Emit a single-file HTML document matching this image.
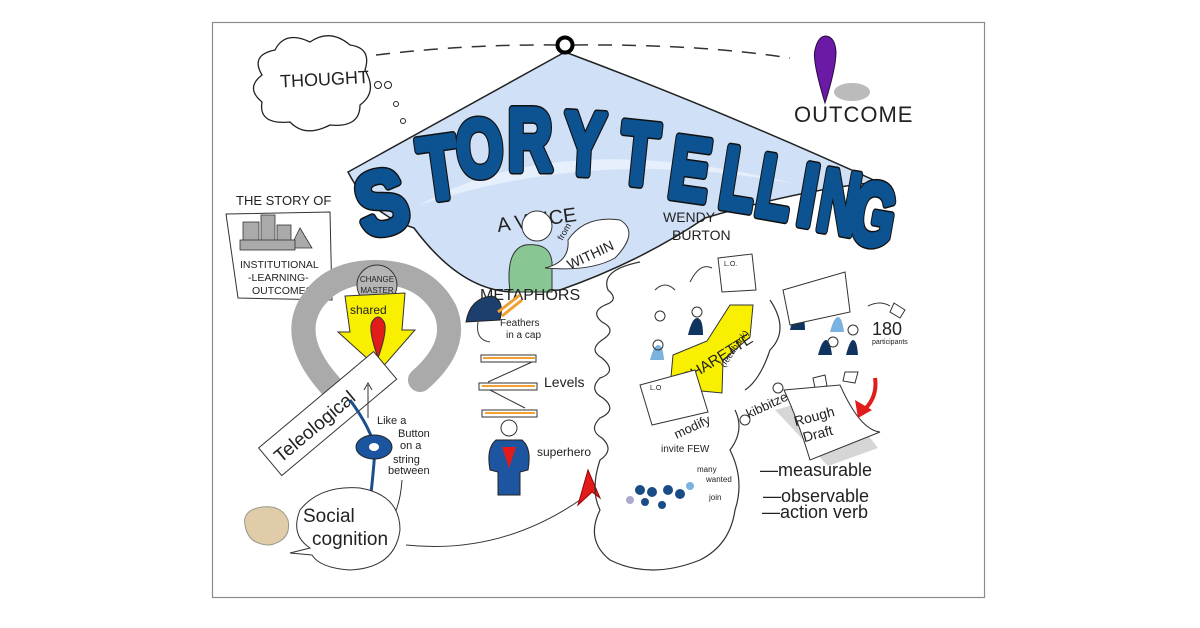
<!DOCTYPE html>
<html><head><meta charset="utf-8"><style>
html,body{margin:0;padding:0;background:#fff;}
svg{display:block;}
text{font-family:"Liberation Sans",sans-serif;}
.h{font-family:"Liberation Sans",sans-serif;fill:#222;}
.Lo{font-family:"DejaVu Sans","Liberation Sans",sans-serif;font-weight:bold;fill:#111;stroke:#111;stroke-width:9;stroke-linejoin:round;}
.Li{font-family:"DejaVu Sans","Liberation Sans",sans-serif;font-weight:bold;fill:#0d5391;stroke:#0d5391;stroke-width:6;stroke-linejoin:round;}
</style></head><body>
<svg width="1200" height="628" viewBox="0 0 1200 628" xmlns="http://www.w3.org/2000/svg">
<rect x="0" y="0" width="1200" height="628" fill="#fff"/>
<rect x="212.5" y="22.5" width="772" height="575" fill="#fff" stroke="#8a8a8a" stroke-width="1.2"/>

<!-- blue tent -->
<path d="M565,52 Q460,110 348,172 Q370,215 414,228 Q460,290 512,292 L560,290 Q640,262 705,218 Q800,190 878,182 Q720,110 565,52 Z" fill="#cfe0f7" stroke="#222" stroke-width="1.5"/>
<path d="M420,205 Q560,125 800,185 Q600,145 420,205Z" fill="#e6effc"/>

<!-- dashed line + ring -->
<path d="M376,55 Q470,44 556,45" fill="none" stroke="#333" stroke-width="1.5" stroke-dasharray="14,10"/>
<path d="M574,45 Q700,44 790,58" fill="none" stroke="#333" stroke-width="1.5" stroke-dasharray="14,10"/>
<circle cx="565" cy="45" r="7.5" fill="#fff" stroke="#000" stroke-width="4"/>

<!-- thought cloud -->
<path d="M262,75 Q250,55 275,50 Q285,30 310,42 Q330,28 350,45 Q372,48 365,70 Q378,92 360,105 Q360,128 330,125 Q305,138 290,122 Q258,125 262,102 Q245,88 262,75Z" fill="#fff" stroke="#222" stroke-width="1.3"/>
<text x="280" y="86" class="h" font-size="18" transform="rotate(-3 310 80)">THOUGHT</text>
<circle cx="378" cy="85" r="3.5" fill="none" stroke="#222"/>
<circle cx="388" cy="85" r="3.5" fill="none" stroke="#222"/>
<circle cx="396" cy="104" r="2.5" fill="none" stroke="#222"/>
<circle cx="403" cy="121" r="2.5" fill="none" stroke="#222"/>

<!-- pin + outcome -->
<ellipse cx="852" cy="92" rx="18" ry="9" fill="#bbb"/>
<path d="M825,103 Q812,60 815,50 Q818,36 826,36 Q835,37 836,52 Q836,68 825,103Z" fill="#6a1aa5" stroke="#2a0a40" stroke-width="1"/>
<text x="794" y="122" class="h" font-size="22" letter-spacing="1">OUTCOME</text>

<!-- STORYTELLING -->
<g font-size="88" text-anchor="middle">
<g class="Lo">
<text transform="translate(389,232) rotate(-14) scale(0.85,1)">S</text>
<text transform="translate(443,198) rotate(-8) scale(0.72,1)">T</text>
<text transform="translate(482,176) rotate(-5) scale(0.68,0.92)">O</text>
<text transform="translate(530,170) scale(0.7,1)">R</text>
<text transform="translate(583,174) rotate(3) scale(0.7,1)">Y</text>
<text transform="translate(636,184) rotate(6) scale(0.7,1)">T</text>
<text transform="translate(686,199) rotate(8) scale(0.68,1)">E</text>
<text transform="translate(734,209) rotate(9) scale(0.65,1)">L</text>
<text transform="translate(770,217) rotate(10) scale(0.65,1)">L</text>
<text transform="translate(803,225) rotate(10) scale(0.7,1)">I</text>
<text transform="translate(834,232) rotate(10) scale(0.62,1)">N</text>
<text transform="translate(868,244) rotate(10) scale(0.64,1)">G</text>
</g>
<g class="Li">
<text transform="translate(389,232) rotate(-14) scale(0.85,1)">S</text>
<text transform="translate(443,198) rotate(-8) scale(0.72,1)">T</text>
<text transform="translate(482,176) rotate(-5) scale(0.68,0.92)">O</text>
<text transform="translate(530,170) scale(0.7,1)">R</text>
<text transform="translate(583,174) rotate(3) scale(0.7,1)">Y</text>
<text transform="translate(636,184) rotate(6) scale(0.7,1)">T</text>
<text transform="translate(686,199) rotate(8) scale(0.68,1)">E</text>
<text transform="translate(734,209) rotate(9) scale(0.65,1)">L</text>
<text transform="translate(770,217) rotate(10) scale(0.65,1)">L</text>
<text transform="translate(803,225) rotate(10) scale(0.7,1)">I</text>
<text transform="translate(834,232) rotate(10) scale(0.62,1)">N</text>
<text transform="translate(868,244) rotate(10) scale(0.64,1)">G</text>
</g>
</g>

<!-- voice within -->
<text x="496" y="226" class="h" font-size="20" transform="rotate(-8 540 215)">A VOICE</text>
<path d="M510,292 Q505,250 525,245 Q550,242 552,262 L552,292Z" fill="#88c694" stroke="#333"/>
<circle cx="537" cy="226" r="15" fill="#fff" stroke="#333"/>
<path d="M545,268 Q570,262 568,240 Q585,215 620,220 Q640,232 615,258 Q590,272 545,268Z" fill="#fff" stroke="#333"/>
<text x="556" y="240" class="h" font-size="9" transform="rotate(-60 560 235)">from</text>
<text x="565" y="262" class="h" font-size="14" transform="rotate(-25 585 255)">WITHIN</text>
<text x="663" y="222" class="h" font-size="14">WENDY</text>
<text x="672" y="240" class="h" font-size="14">BURTON</text>

<!-- story of box -->
<text x="236" y="205" class="h" font-size="13">THE STORY OF</text>
<path d="M226,214 L330,212 L332,300 L238,298Z" fill="#fff" stroke="#333"/>
<g fill="#aaa" stroke="#333" stroke-width="0.8">
<rect x="243" y="222" width="16" height="25"/><rect x="261" y="215" width="14" height="32"/><rect x="277" y="225" width="14" height="22"/><path d="M290,248 L300,228 L312,248Z"/>
<rect x="240" y="240" width="55" height="10"/>
</g>
<text x="240" y="268" class="h" font-size="10.5">INSTITUTIONAL</text>
<text x="248" y="281" class="h" font-size="10.5">-LEARNING-</text>
<text x="252" y="294" class="h" font-size="10.5">OUTCOMES</text>

<!-- gray horseshoe -->
<path d="M330,385 Q290,340 310,305 Q330,272 375,272 Q425,272 445,310 Q460,345 420,380" fill="none" stroke="#aaa" stroke-width="24" stroke-linecap="round"/>
<circle cx="377" cy="285" r="20" fill="#b5b5b5" stroke="#333"/>
<text x="377" y="282" class="h" font-size="8" text-anchor="middle">CHANGE</text>
<text x="377" y="293" class="h" font-size="8" text-anchor="middle">MASTER</text>
<path d="M345,296 L405,293 L402,330 L415,330 L380,370 L338,332 L350,332Z" fill="#f8f000" stroke="#333"/>
<path d="M378,358 Q368,330 372,322 Q378,312 384,322 Q388,330 378,358Z" fill="#e21b1b" stroke="#333"/>
<text x="350" y="314" class="h" font-size="12" fill="#222">shared</text>
<!-- teleological band -->
<g transform="rotate(-40 320 420)">
<rect x="255" y="402" width="150" height="36" fill="#fff" stroke="#333"/>
<text x="262" y="428" class="h" font-size="19">Teleological</text>
</g>
<!-- button -->
<path d="M350,400 Q372,430 375,450 Q372,490 368,515" fill="none" stroke="#1b4f8c" stroke-width="3"/>
<ellipse cx="374" cy="447" rx="18" ry="12" fill="#1b55a0" stroke="#222"/>
<ellipse cx="374" cy="447" rx="5" ry="4" fill="#fff"/>
<g class="h" font-size="11"><text x="377" y="424">Like a</text><text x="398" y="437">Button</text><text x="400" y="449">on a</text><text x="393" y="463">string</text><text x="388" y="474">between</text></g>
<path d="M368,418 L368,385 M364,390 L368,383 L372,390" fill="none" stroke="#333"/>
<path d="M402,480 Q400,510 388,525" fill="none" stroke="#333"/>

<!-- brain & social cognition -->
<path d="M245,525 Q242,510 262,507 Q282,505 288,520 Q292,540 270,545 Q248,545 245,525Z" fill="#e1cca9" stroke="#998"/>
<path d="M310,548 Q290,535 300,510 Q320,485 360,488 Q400,495 400,530 Q395,568 350,570 Q320,568 312,555 L290,553Z" fill="#fff" stroke="#333"/>
<text x="303" y="522" class="h" font-size="19">Social</text>
<text x="312" y="545" class="h" font-size="19">cognition</text>
<path d="M406,545 Q500,555 580,500" fill="none" stroke="#333"/>
<path d="M578,505 L588,470 L600,498 L592,492 Z" fill="#e21b1b" stroke="#900"/>

<!-- metaphors -->
<text x="480" y="300" class="h" font-size="16">METAPHORS</text>
<path d="M466,322 Q470,298 492,296 Q505,300 500,320Z" fill="#1d3f6e" stroke="#222"/>
<path d="M498,312 L520,295 M502,316 L522,300" stroke="#f0a030" stroke-width="3"/>
<path d="M478,322 Q475,340 490,342" fill="none" stroke="#333"/>
<text x="500" y="326" class="h" font-size="10">Feathers</text>
<text x="506" y="338" class="h" font-size="10">in a cap</text>
<g stroke="#333" fill="#fff">
<rect x="481" y="355" width="55" height="7"/><rect x="479" y="383" width="58" height="7"/><rect x="482" y="410" width="55" height="7"/>
</g>
<path d="M483,358 L535,358 M482,386 L535,386 M485,413 L535,413" stroke="#f5a030" stroke-width="2"/>
<path d="M532,362 L488,382 M490,390 L525,408" stroke="#333"/>
<text x="544" y="387" class="h" font-size="14">Levels</text>
<circle cx="509" cy="428" r="8" fill="#fff" stroke="#333"/>
<path d="M490,470 Q486,448 496,440 L522,440 Q532,448 528,470 L520,472 L520,495 L498,495 L498,472Z" fill="#1e55a0" stroke="#222"/>
<path d="M502,447 L516,447 L509,468Z" fill="#e21b1b"/>
<text x="537" y="456" class="h" font-size="12">superhero</text>

<!-- loop spiral -->
<path d="M640,262 Q600,270 608,290 Q620,300 605,305 Q590,312 602,322 Q618,330 602,340 Q588,350 602,358 Q618,372 600,378 Q588,390 603,398 Q618,410 600,418 Q588,430 602,438 Q615,450 600,460 Q590,490 600,510 Q585,540 610,560 Q650,580 700,560 Q730,545 735,510 M735,510 Q745,480 730,450 Q745,430 735,410" fill="none" stroke="#333" stroke-width="1.2"/>
<path d="M770,300 Q790,330 770,350 Q760,380 745,390" fill="none" stroke="#333" stroke-width="1.2"/>
<path d="M655,290 Q665,280 675,290 M690,282 Q700,262 712,268" fill="none" stroke="#333"/>

<!-- charette -->
<path d="M670,388 L673,355 L707,341 L730,305 L753,305 L750,337 L723,360 L722,393Z" fill="#f8f000" stroke="#333"/>
<text x="672" y="372" class="h" font-size="15" transform="rotate(-32 700 355)">CHARETTE</text>
<text x="710" y="370" class="h" font-size="9" transform="rotate(-55 715 355)">(feedback)</text>
<path d="M718,258 L752,254 L756,290 L722,292Z" fill="#fff" stroke="#333"/>
<text x="724" y="266" class="h" font-size="7">L.O.</text>
<path d="M640,385 L695,370 L708,412 L652,425Z" fill="#fff" stroke="#333"/>
<text x="650" y="390" class="h" font-size="7">L.O</text>
<text x="672" y="432" class="h" font-size="13" transform="rotate(-25 690 425)">modify</text>
<g fill="#10345f"><path d="M688,335 Q692,318 697,318 Q703,318 703,335Z"/><path d="M790,330 Q793,315 799,315 Q805,315 805,330Z"/><path d="M818,355 Q822,340 826,340 Q830,340 832,355Z"/><path d="M846,355 Q850,340 853,340 Q857,340 858,355Z"/></g>
<g fill="#7ab2e0"><path d="M650,360 Q654,345 658,345 Q663,345 664,360Z"/><path d="M830,332 Q834,317 838,317 Q842,317 844,332Z"/></g>
<g fill="none" stroke="#333"><circle cx="660" cy="316" r="5"/><circle cx="658" cy="345" r="5"/><circle cx="697" cy="312" r="5"/><circle cx="833" cy="342" r="5"/><circle cx="853" cy="330" r="5"/></g>
<text x="661" y="452" class="h" font-size="10">invite FEW</text>
<text x="697" y="472" class="h" font-size="8">many</text>
<text x="706" y="482" class="h" font-size="8">wanted</text>
<text x="709" y="500" class="h" font-size="8">join</text>
<g fill="#1a4c85"><circle cx="640" cy="490" r="5"/><circle cx="652" cy="492" r="5"/><circle cx="668" cy="490" r="5"/><circle cx="680" cy="494" r="5"/><circle cx="645" cy="502" r="4"/><circle cx="662" cy="505" r="4"/><circle cx="690" cy="486" r="4" fill="#7ab2e0"/><circle cx="630" cy="500" r="4" fill="#aac"/></g>

<!-- poster 180 -->
<path d="M783,290 L845,272 L850,312 L790,325Z" fill="#fff" stroke="#333"/>
<text x="872" y="335" class="h" font-size="18">180</text>
<text x="872" y="344" class="h" font-size="7">participants</text>
<path d="M868,306 Q880,300 890,306 M894,303 L905,310 L900,318 L890,312Z" fill="none" stroke="#333"/>
<path d="M813,378 L825,375 L827,386 L815,388Z M845,372 L858,372 L855,383 L843,381Z" fill="#fff" stroke="#333"/>
<text x="742" y="412" class="h" font-size="13" transform="rotate(-25 760 400)">kibbitzer</text>
<circle cx="745" cy="420" r="5" fill="none" stroke="#333"/><circle cx="778" cy="388" r="5" fill="none" stroke="#333"/>
<!-- rough draft -->
<path d="M775,410 L835,393 L878,448 L828,466 Z" fill="#bbb" opacity="0.6"/>
<path d="M784,390 L840,385 Q860,430 880,432 L810,460 Q798,420 784,390Z" fill="#fff" stroke="#333"/>
<text x="796" y="420" class="h" font-size="14" transform="rotate(-15 820 425)">Rough</text>
<text x="803" y="438" class="h" font-size="14" transform="rotate(-15 820 435)">Draft</text>
<path d="M875,378 Q878,398 862,412" fill="none" stroke="#e21b1b" stroke-width="4"/>
<path d="M855,400 L858,418 L872,410Z" fill="#e21b1b"/>
<text x="760" y="476" class="h" font-size="18">—measurable</text>
<text x="763" y="502" class="h" font-size="18">—observable</text>
<text x="762" y="518" class="h" font-size="18">—action verb</text>
</svg>
</body></html>
